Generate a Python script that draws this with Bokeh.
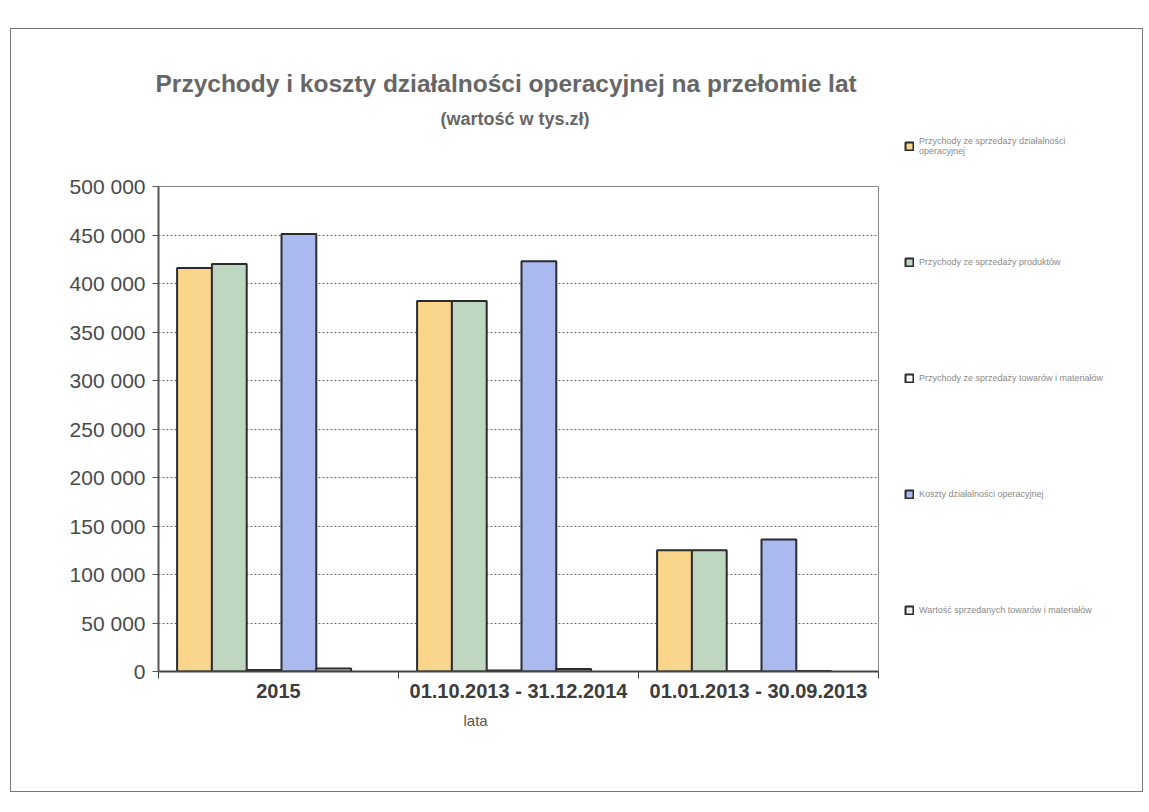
import numpy as np
from bokeh.plotting import figure
from bokeh.layouts import row
from bokeh.models import FixedTicker, Legend, LegendItem, Title, Range1d
from bokeh.embed import file_html
from bokeh.resources import INLINE

# ---- data ----
categories = ["2015", "01.10.2013 - 31.12.2014", "01.01.2013 - 30.09.2013"]
series_names = [
    "Przychody ze sprzedaży działalności\noperacyjnej",
    "Przychody ze sprzedaży produktów",
    "Przychody ze sprzedaży towarów i materiałów",
    "Koszty działalności operacyjnej",
    "Wartość sprzedanych towarów i materiałów",
]
przychody_dzialalnosci = [416000, 382000, 125000]
przychody_produktow = [420000, 382000, 125000]
przychody_towarow = [1500, 1000, 300]
koszty_dzialalnosci = [451000, 423000, 136000]
wartosc_sprzedanych = [3000, 2500, 600]
series_values = [przychody_dzialalnosci, przychody_produktow, przychody_towarow,
                 koszty_dzialalnosci, wartosc_sprzedanych]
series_colors = ["#F9D68C", "#BFD7C0", "#FFFFFF", "#AAB9EF", "#F0F0F0"]
y_ticks = [0, 50000, 100000, 150000, 200000, 250000, 300000, 350000, 400000, 450000, 500000]
y_tick_labels = ["0", "50 000", "100 000", "150 000", "200 000", "250 000",
                 "300 000", "350 000", "400 000", "450 000", "500 000"]
title_text = "Przychody i koszty działalności operacyjnej na przełomie lat"
subtitle_text = "(wartość w tys.zł)"
x_axis_title = "lata"

FONT = "Liberation Sans"

p = figure(width=880, height=762, output_backend="svg", toolbar_location=None,
           x_range=Range1d(0, len(categories)), y_range=Range1d(0, 500000),
           min_border_left=147, min_border_right=13, min_border_top=157,
           min_border_bottom=120)
p.frame_align = False
p.background_fill_color = "white"
p.border_fill_color = "white"
p.outline_line_color = "#888888"
p.outline_line_width = 1

bar_w = 0.145
shift = -0.06
offsets = [(-2 + k) * bar_w + shift for k in range(5)]
centers = np.arange(len(categories)) + 0.5

bar_style = dict(width=bar_w, bottom=0, line_color="#2b2b2b", line_width=2)
for vals, col, off in zip(series_values, series_colors, offsets):
    p.vbar(x=centers + off, top=vals, fill_color=col, **bar_style)

# axes
yax = p.yaxis[0]
yax.ticker = FixedTicker(ticks=y_ticks)
yax.major_label_overrides = {t: l for t, l in zip(y_ticks, y_tick_labels)}
yax.axis_line_color = "#555555"
yax.axis_line_width = 2
yax.major_tick_out = 6
yax.major_tick_in = 0
yax.major_tick_line_color = "#555555"
yax.minor_tick_line_color = None
yax.major_label_text_font = FONT
yax.major_label_text_font_size = "21px"
yax.major_label_text_color = "#4a4a4a"
yax.major_label_standoff = 7

xax = p.xaxis[0]
xax.ticker = FixedTicker(ticks=list(centers), minor_ticks=list(range(len(categories) + 1)))
xax.major_label_overrides = {float(c): n for c, n in zip(centers, categories)}
xax.major_tick_line_color = None
xax.minor_tick_line_color = "#444444"
xax.minor_tick_out = 7
xax.minor_tick_in = 0
xax.axis_line_color = "#444444"
xax.axis_line_width = 2
xax.major_label_text_font = FONT
xax.major_label_text_font_size = "20px"
xax.major_label_text_color = "#3c3c3c"
xax.major_label_text_font_style = "bold"
xax.major_label_standoff = 1

p.xgrid.grid_line_color = None
p.ygrid.grid_line_color = "#6a6a6a"
p.ygrid.grid_line_dash = "2 2"
p.ygrid.grid_line_width = 1

# titles: added inner-first (spacer, subtitle, main title)
p.add_layout(Title(text=" ", text_font_size="36px"), "above")
p.add_layout(Title(text=subtitle_text, align="left", offset=282,
                   text_font=FONT, text_font_size="18px", text_font_style="bold",
                   text_color="#666666"), "above")
p.add_layout(Title(text=title_text, align="left", offset=-3,
                   text_font=FONT, text_font_size="24.5px", text_font_style="bold",
                   text_color="#666666"), "above")
p.add_layout(Title(text=x_axis_title, align="left", offset=305,
                   text_font=FONT, text_font_size="15px", text_font_style="normal",
                   text_color="#555555"), "below")

# legend panel: a second figure whose view holds only the legend
pl = figure(width=251, height=762, output_backend="svg", toolbar_location=None,
            x_axis_type=None, y_axis_type=None,
            x_range=Range1d(0, 1), y_range=Range1d(-1000000, -900000),
            min_border=0, min_border_left=0, min_border_right=0,
            min_border_top=0, min_border_bottom=0)
pl.frame_align = False
pl.outline_line_color = None
pl.background_fill_color = "white"
pl.border_fill_color = "white"
pl.grid.visible = False
leg_renderers = []
for vals, col, off in zip(series_values, series_colors, offsets):
    r = pl.vbar(x=centers + off, top=vals, fill_color=col, **bar_style)
    r.visible = False
    leg_renderers.append(r)

legend = Legend(items=[LegendItem(label=n, renderers=[r]) for n, r in zip(series_names, leg_renderers)],
                location=(13, 171), orientation="vertical",
                glyph_width=10, glyph_height=10, label_height=20, spacing=96,
                padding=0, margin=0, label_standoff=5, click_policy="none",
                inactive_fill_alpha=0,
                label_text_font=FONT, label_text_font_size="9px", label_text_color="#8a8a8a",
                border_line_color=None, background_fill_alpha=0)
pl.add_layout(legend, "center")

layout = row(p, pl)
layout.styles = {"border": "1px solid #777", "margin-top": "28px", "margin-left": "10px"}

open("out.html", "w").write(file_html(layout, INLINE))
